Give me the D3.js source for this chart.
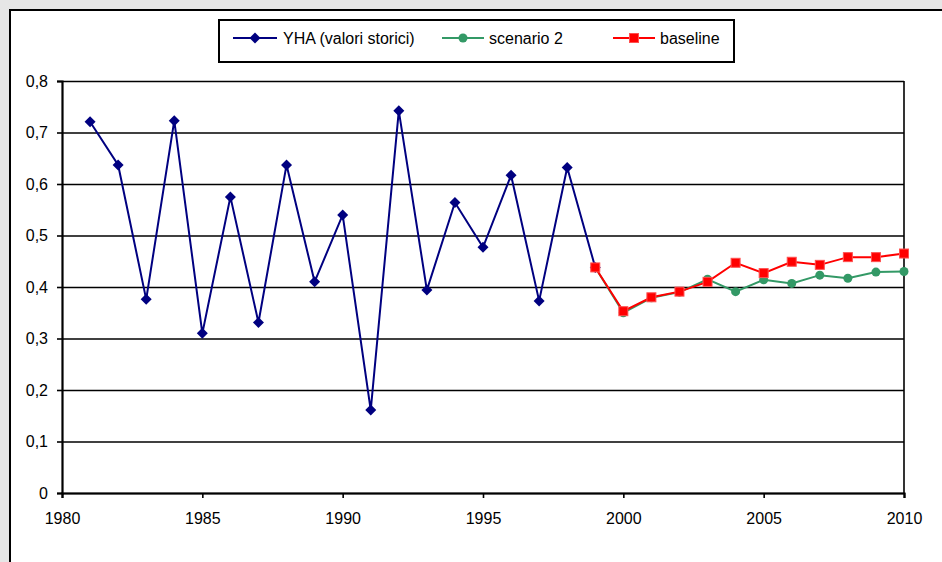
<!DOCTYPE html>
<html>
<head>
<meta charset="utf-8">
<script src="https://cdn.jsdelivr.net/npm/d3@7"></script>
<style>
  html, body { margin: 0; padding: 0; background: #e6e6e6; }
  svg { display: block; }
  text { font-family: "Liberation Sans", Arial, sans-serif; font-size: 16px; fill: #000; }
</style>
</head>
<body>
<svg id="chart" width="942" height="562"></svg>
<script>
// ---- data ----
const histYears = [1981,1982,1983,1984,1985,1986,1987,1988,1989,1990,1991,1992,1993,1994,1995,1996,1997,1998,1999];
const histValues = [0.721,0.637,0.376,0.723,0.310,0.575,0.331,0.637,0.410,0.540,0.161,0.742,0.394,0.564,0.477,0.617,0.373,0.632,0.438];
const scenYears = [1999,2000,2001,2002,2003,2004,2005,2006,2007,2008,2009,2010];
const scenario2Values = [0.438,0.350,0.379,0.390,0.415,0.391,0.414,0.407,0.423,0.417,0.429,0.430];
const baselineValues = [0.438,0.353,0.380,0.391,0.410,0.447,0.427,0.449,0.443,0.458,0.458,0.465];
const xTicks = [1980,1985,1990,1995,2000,2005,2010];
const yTicks = [0,0.1,0.2,0.3,0.4,0.5,0.6,0.7,0.8];
const yTickLabels = ["0","0,1","0,2","0,3","0,4","0,5","0,6","0,7","0,8"];
const legendLabels = ["YHA (valori storici)","scenario 2","baseline"];

// ---- layout ----
const svg = d3.select("#chart");
const pLeft = 62, pRight = 904, pTop = 81, pBottom = 493;
const FONT = "Liberation Sans, Arial, sans-serif";

// chart area frame
svg.append("rect").attr("x", 10).attr("y", 10).attr("width", 960).attr("height", 600)
  .attr("fill", "#fff").attr("stroke", "#000").attr("stroke-width", 2);

const x = d3.scaleLinear().domain([1980, 2010]).range([pLeft, pRight]);
const y = d3.scaleLinear().domain([0, 0.8]).range([pBottom, pTop]);

// gridlines
const grid = svg.append("g").attr("transform", `translate(${pLeft},0)`)
  .call(d3.axisLeft(y).tickValues(yTicks).tickSize(-(pRight - pLeft)).tickFormat(""));
grid.select(".domain").remove();
grid.selectAll("line").attr("stroke", "#000").attr("stroke-width", 1.6);

// right border of plot
svg.append("line").attr("x1", pRight).attr("x2", pRight).attr("y1", pTop).attr("y2", pBottom)
  .attr("stroke", "#000").attr("stroke-width", 1.6);

// y axis
const yAxis = svg.append("g").attr("transform", `translate(${pLeft},0)`)
  .call(d3.axisLeft(y).tickValues(yTicks).tickSize(5).tickPadding(9)
    .tickFormat((d, i) => yTickLabels[i]));
yAxis.attr("font-size", 16).attr("font-family", FONT);
yAxis.select(".domain").attr("stroke", "#000").attr("stroke-width", 2.2);
yAxis.selectAll("line").attr("stroke", "#000").attr("stroke-width", 1.6);
yAxis.selectAll("text").attr("font-size", 16).attr("font-family", FONT).attr("fill", "#000");

// x axis
const xAxis = svg.append("g").attr("transform", `translate(0,${pBottom})`)
  .call(d3.axisBottom(x).tickValues(xTicks).tickSize(5).tickPadding(15).tickFormat(d3.format("d")));
xAxis.attr("font-size", 16).attr("font-family", FONT);
xAxis.select(".domain").attr("stroke", "#000").attr("stroke-width", 2.2);
xAxis.selectAll("line").attr("stroke", "#000").attr("stroke-width", 1.6);
xAxis.selectAll("text").attr("font-size", 16).attr("font-family", FONT).attr("fill", "#000");

// ---- series ----
const navy = "#000080", green = "#339966", red = "#ff0000";
const line = d3.line().x(d => x(d[0])).y(d => y(d[1]));

const hist = histYears.map((yr, i) => [yr, histValues[i]]);
const scen = scenYears.map((yr, i) => [yr, scenario2Values[i]]);
const base = scenYears.map((yr, i) => [yr, baselineValues[i]]);

const diamond = (cx, cy, r) => `M${cx},${cy - r}L${cx + r},${cy}L${cx},${cy + r}L${cx - r},${cy}Z`;

// historical
svg.append("path").datum(hist).attr("d", line).attr("fill", "none").attr("stroke", navy).attr("stroke-width", 2);
svg.append("g").selectAll("path").data(hist).join("path")
  .attr("d", d => diamond(x(d[0]), y(d[1]), 5.5)).attr("fill", navy);

// scenario 2
svg.append("path").datum(scen).attr("d", line).attr("fill", "none").attr("stroke", green).attr("stroke-width", 2);
svg.append("g").selectAll("circle").data(scen).join("circle")
  .attr("cx", d => x(d[0])).attr("cy", d => y(d[1])).attr("r", 4.5).attr("fill", green);

// baseline
svg.append("path").datum(base).attr("d", line).attr("fill", "none").attr("stroke", red).attr("stroke-width", 2);
svg.append("g").selectAll("rect").data(base).join("rect")
  .attr("x", d => x(d[0]) - 4.5).attr("y", d => y(d[1]) - 4.5).attr("width", 9).attr("height", 9)
  .attr("fill", red).attr("stroke", "#ff5050").attr("stroke-width", 1);

// ---- legend ----
const lg = svg.append("g");
lg.append("rect").attr("x", 219).attr("y", 20).attr("width", 515).attr("height", 42)
  .attr("fill", "#fff").attr("stroke", "#000").attr("stroke-width", 2);
const ly = 38;
const legendItems = [
  { x0: 233, x1: 277, tx: 283, color: navy, kind: "diamond" },
  { x0: 442, x1: 484, tx: 489, color: green, kind: "circle" },
  { x0: 613, x1: 655, tx: 660, color: red, kind: "square" }
];
legendItems.forEach((it, i) => {
  lg.append("line").attr("x1", it.x0).attr("x2", it.x1).attr("y1", ly).attr("y2", ly)
    .attr("stroke", it.color).attr("stroke-width", 2);
  const cx = (it.x0 + it.x1) / 2;
  if (it.kind === "diamond") lg.append("path").attr("d", diamond(cx, ly, 5.5)).attr("fill", it.color);
  else if (it.kind === "circle") lg.append("circle").attr("cx", cx).attr("cy", ly).attr("r", 4.5).attr("fill", it.color);
  else lg.append("rect").attr("x", cx - 4.5).attr("y", ly - 4.5).attr("width", 9).attr("height", 9)
    .attr("fill", it.color).attr("stroke", "#ff5050");
  lg.append("text").attr("x", it.tx).attr("y", ly).attr("dy", "0.35em")
    .attr("font-size", 16).attr("font-family", FONT).text(legendLabels[i]);
});
</script>
</body>
</html>
